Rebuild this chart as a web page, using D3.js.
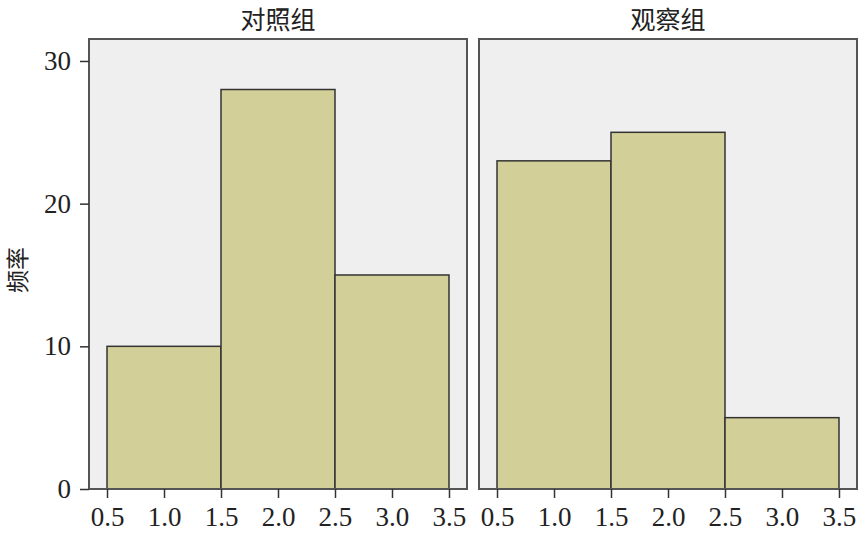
<!DOCTYPE html>
<html lang="zh">
<head>
    <meta charset="UTF-8">
    <title>频率直方图</title>
    <style>
        body { margin: 0; background: #fff; }
        svg { display: block; }
        .tick text { font-family: "Liberation Serif", "Times New Roman", serif; font-size: 27px; fill: #222; }
        .cjk { font-family: "Noto Sans CJK SC", sans-serif; fill: #222; }
    </style>
</head>
<body>
    <svg width="866" height="533"></svg>
    <script src="https://d3js.org/d3.v7.min.js"></script>
    <script>
        // bin edges shared by both panels
        let binStarts = [0.5, 1.5, 2.5];
        let binWidth = 1;
        let groups = ["对照组", "观察组"];
        let controlCounts = [10, 28, 15];
        let observeCounts = [23, 25, 5];
        let xTicks = [0.5, 1.0, 1.5, 2.0, 2.5, 3.0, 3.5];
        let yTicks = [0, 10, 20, 30];
        let yLabel = "频率";

        let series = [controlCounts, observeCounts];
        let panels = [[89, 467], [479, 857]];
        let plotTop = 39, plotBottom = 489;

        let svg = d3.select("svg");
        let y = d3.scaleLinear().domain([0, 31.54]).range([plotBottom, plotTop]);

        panels.forEach((p, i) => {
            let x = d3.scaleLinear().domain([0.342, 3.658]).range(p);
            let g = svg.append("g");

            g.append("rect")
                .attr("x", p[0]).attr("y", plotTop)
                .attr("width", p[1] - p[0]).attr("height", plotBottom - plotTop)
                .style("fill", "#efefef");

            g.selectAll("rect.bar")
                .data(series[i])
                .enter()
                .append("rect")
                .attr("class", "bar")
                .attr("x", (d, j) => x(binStarts[j]))
                .attr("y", d => y(d))
                .attr("width", (d, j) => x(binStarts[j] + binWidth) - x(binStarts[j]))
                .attr("height", d => plotBottom - y(d))
                .style("fill", "#d3cf98")
                .style("stroke", "#333")
                .style("stroke-width", 1.5);

            g.append("rect")
                .attr("x", p[0]).attr("y", plotTop)
                .attr("width", p[1] - p[0]).attr("height", plotBottom - plotTop)
                .style("fill", "none")
                .style("stroke", "#555")
                .style("stroke-width", 2);

            let xAxis = d3.axisBottom(x).tickValues(xTicks).tickFormat(d3.format(".1f"))
                .tickSize(9).tickPadding(9);
            let ax = g.append("g").attr("transform", `translate(0,${plotBottom})`).call(xAxis);
            ax.select(".domain").remove();
            ax.selectAll(".tick line").style("stroke", "#333").style("stroke-width", 1.5);

            g.append("text")
                .attr("class", "cjk")
                .attr("x", (p[0] + p[1]) / 2)
                .attr("y", 29)
                .attr("text-anchor", "middle")
                .style("font-size", "25px")
                .text(groups[i]);
        });

        let yAxis = d3.axisLeft(y).tickValues(yTicks).tickSize(9).tickPadding(9);
        let ay = svg.append("g").attr("transform", `translate(${panels[0][0]},0)`).call(yAxis);
        ay.select(".domain").remove();
        ay.selectAll(".tick line").style("stroke", "#333").style("stroke-width", 1.5);

        svg.append("text")
            .attr("class", "cjk")
            .attr("transform", `translate(26,${(plotTop + plotBottom) / 2 + 6}) rotate(-90)`)
            .attr("text-anchor", "middle")
            .style("font-size", "23px")
            .text(yLabel);
    </script>
</body>
</html>
